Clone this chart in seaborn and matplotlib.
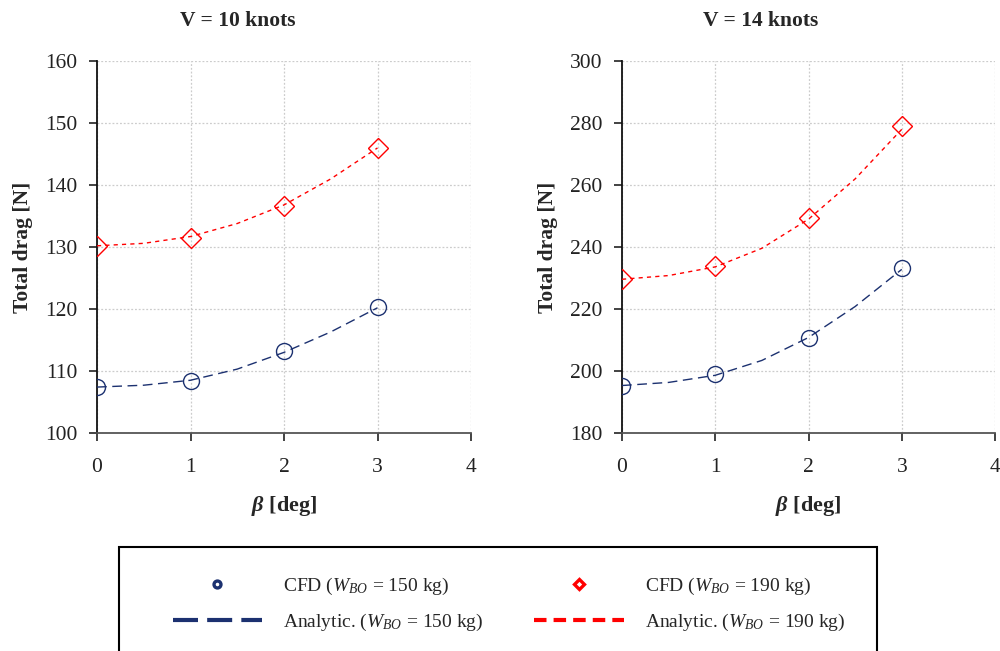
import numpy as np
import pandas as pd
import matplotlib
matplotlib.use("Agg")
import matplotlib.pyplot as plt
import seaborn as sns
from matplotlib.lines import Line2D
from matplotlib.patches import Rectangle

# ---- data ----
beta_cfd = [0, 1, 2, 3]
cfd_10_150 = [107.4, 108.3, 113.2, 120.3]
cfd_10_190 = [130.2, 131.4, 136.6, 146.0]
cfd_14_150 = [195.3, 198.9, 210.5, 233.3]
cfd_14_190 = [229.6, 233.9, 249.5, 279.1]

beta_an = [0, 0.5, 1, 1.5, 2, 2.5, 3]
an_10_150 = [107.4, 107.7, 108.5, 110.3, 113.0, 116.3, 120.2]
an_10_190 = [130.2, 130.6, 131.7, 133.8, 136.8, 141.0, 146.0]
an_14_150 = [195.3, 196.3, 198.6, 203.4, 210.8, 220.8, 232.8]
an_14_190 = [229.6, 230.8, 233.6, 239.6, 249.0, 262.0, 278.0]

titles = ["V = 10 knots", "V = 14 knots"]
ylims = [(100, 160), (180, 300)]
yticks = [[100, 110, 120, 130, 140, 150, 160], [180, 200, 220, 240, 260, 280, 300]]
xticks = [0, 1, 2, 3, 4]

sns.set_theme(style="white")
plt.rcParams['font.family'] = ['Liberation Serif', 'DejaVu Serif']
plt.rcParams['mathtext.fontset'] = 'custom'
plt.rcParams['mathtext.rm'] = 'Liberation Serif'
plt.rcParams['mathtext.it'] = 'Liberation Serif:italic'
plt.rcParams['mathtext.bf'] = 'Liberation Serif:bold'
plt.rcParams['mathtext.bfit'] = 'Liberation Serif:bold:italic'

BLUE = "#1c3170"
RED = "#ff0000"
FS = 15.5

fig = plt.figure(figsize=(10, 6.51), dpi=100)
axes = [fig.add_axes([0.097, 0.335, 0.374, 0.571]),
        fig.add_axes([0.622, 0.335, 0.373, 0.571])]

sets = [(cfd_10_150, cfd_10_190, an_10_150, an_10_190),
        (cfd_14_150, cfd_14_190, an_14_150, an_14_190)]

for i, ax in enumerate(axes):
    c150, c190, a150, a190 = sets[i]
    df_an = pd.DataFrame({"beta": beta_an, "a150": a150, "a190": a190})
    df_c = pd.DataFrame({"beta": beta_cfd, "c150": c150, "c190": c190})
    sns.lineplot(data=df_an, x="beta", y="a150", ax=ax, color=BLUE, lw=1.0,
                 linestyle=(0, (7, 4)), zorder=3)
    sns.lineplot(data=df_an, x="beta", y="a190", ax=ax, color=RED, lw=1.0,
                 linestyle=(0, (3, 3)), zorder=3)
    ax.plot(df_c["beta"], df_c["c150"], linestyle="none", marker="o", ms=11.5,
            mfc="none", mec=BLUE, mew=1.0, zorder=4)
    ax.plot(df_c["beta"], df_c["c190"], linestyle="none", marker="D", ms=10,
            mfc="none", mec=RED, mew=1.0, zorder=4)
    ax.set_xlim(0, 4)
    ax.set_ylim(*ylims[i])
    ax.set_xticks(xticks)
    ax.set_yticks(yticks[i])
    ax.tick_params(axis="both", labelsize=FS, colors="#222222", length=6,
                   width=1.2, direction="out", bottom=True, left=True, pad=8)
    ax.tick_params(axis="x", pad=12)
    ax.grid(True, color="#cccccc", linestyle=(0, (1.5, 1.5)), lw=0.9)
    for s in ["top", "right"]:
        ax.spines[s].set_visible(False)
    ax.spines["left"].set_color("#111111")
    ax.spines["bottom"].set_color("#555555")
    for s in ["left", "bottom"]:
        ax.spines[s].set_linewidth(1.3)
    ax.set_xlabel(r"$\mathbfit{\beta}$ [deg]", fontsize=16, fontweight="bold",
                  labelpad=12)
    ax.set_ylabel("Total drag [N]", fontsize=FS, fontweight="bold", labelpad=9)

fig.text(0.238, 0.968, titles[0], ha="center", va="center", fontsize=FS,
         fontweight="bold")
fig.text(0.761, 0.968, titles[1], ha="center", va="center", fontsize=FS,
         fontweight="bold")

# legend
fig.patches.append(Rectangle((0.119, -0.05), 0.758, 0.21, transform=fig.transFigure,
                             fill=False, edgecolor="black", lw=1.5, clip_on=False))
handles = [
    Line2D([], [], linestyle="none", marker="o", ms=5, mfc="none", mec=BLUE, mew=2.4),
    Line2D([], [], color=BLUE, lw=3, linestyle=(0, (6, 2.2))),
    Line2D([], [], linestyle="none", marker="D", ms=5, mfc="none", mec=RED, mew=2.4),
    Line2D([], [], color=RED, lw=3, linestyle=(0, (3, 1.7))),
]
labels = [
    r"CFD ($\mathit{W_{BO}}$ = 150 kg)",
    r"Analytic. ($\mathit{W_{BO}}$ = 150 kg)",
    r"CFD ($\mathit{W_{BO}}$ = 190 kg)",
    r"Analytic. ($\mathit{W_{BO}}$ = 190 kg)",
]
fig.legend(handles, labels, ncol=2, loc="center left",
           bbox_to_anchor=(0.155, 0.072), frameon=False, fontsize=14,
           handlelength=4.6, handletextpad=1.1, columnspacing=2.6,
           labelspacing=0.75)

fig.savefig("out.png", dpi=100)
